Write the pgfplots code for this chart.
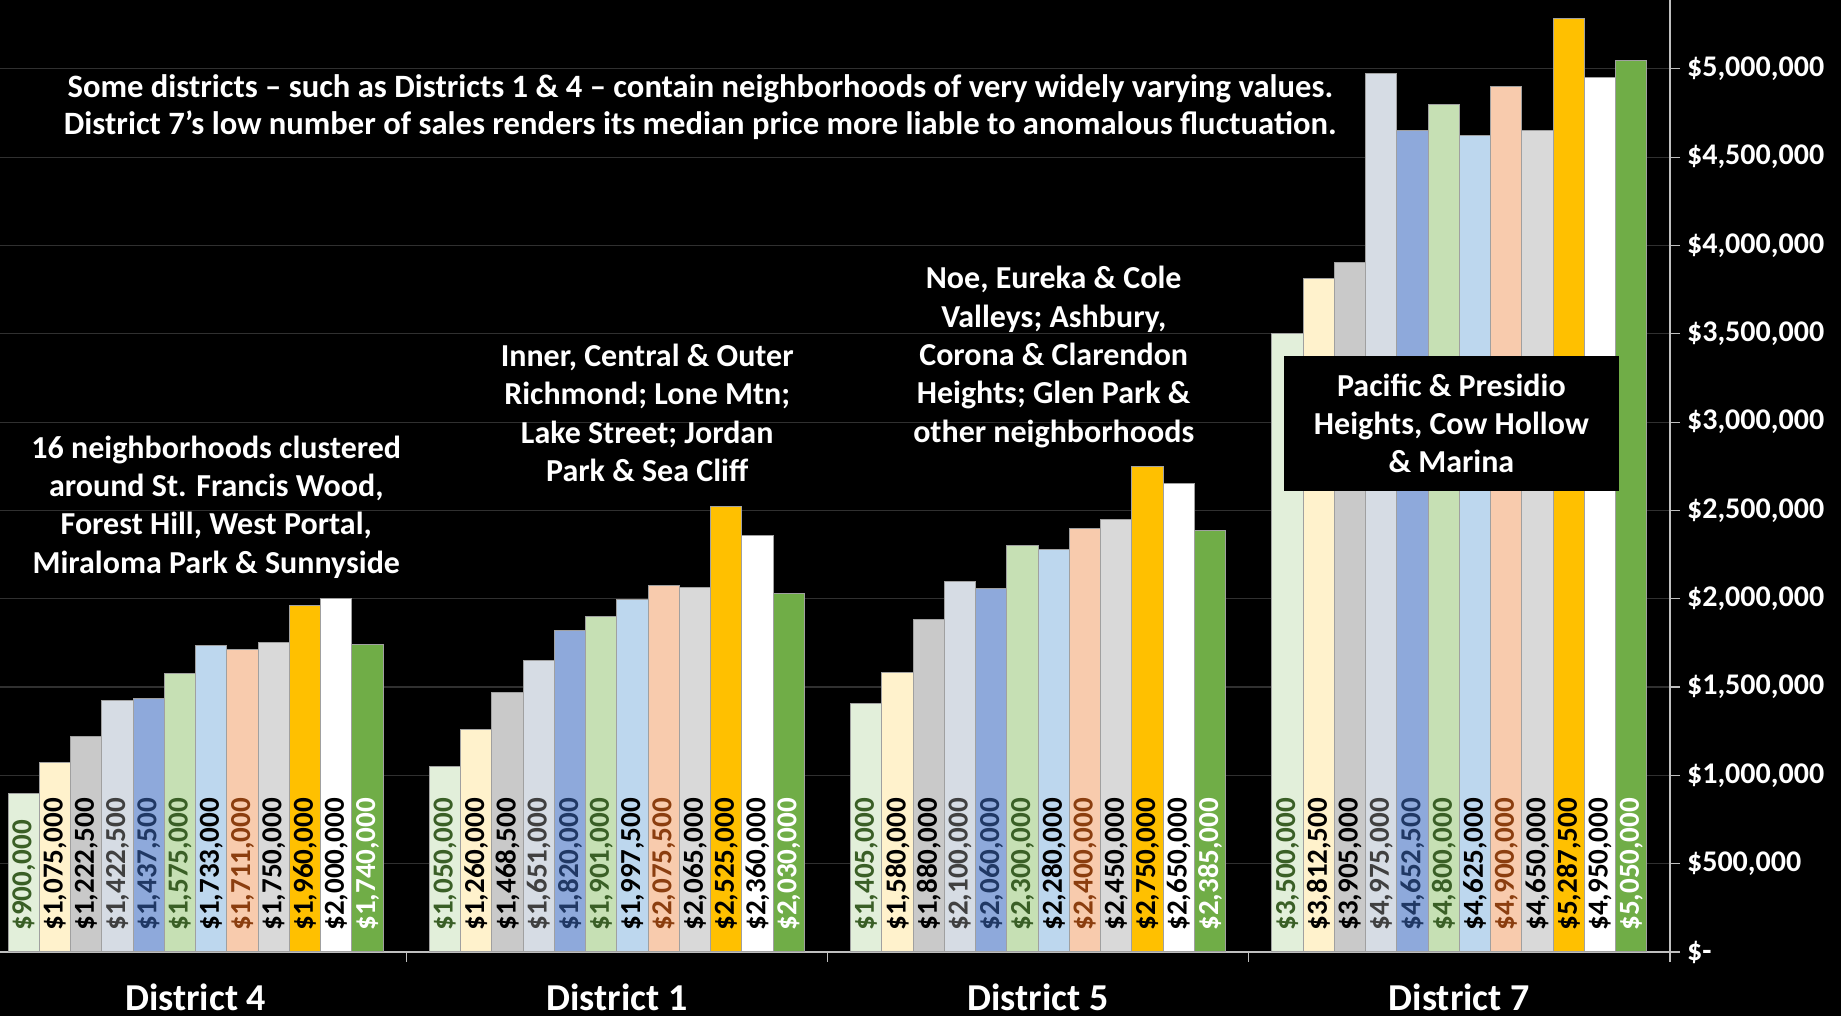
\documentclass[border=0pt]{standalone}
\usepackage{pgfplots}
\pgfplotsset{compat=1.18}
\usepackage{fontspec}
\setmainfont{Carlito}
\definecolor{c1}{HTML}{E2EFDA}
\definecolor{c2}{HTML}{FFF2CC}
\definecolor{c3}{HTML}{C9C9C9}
\definecolor{c4}{HTML}{D6DCE4}
\definecolor{c5}{HTML}{8EA9DB}
\definecolor{c6}{HTML}{C6E0B4}
\definecolor{c7}{HTML}{BDD7EE}
\definecolor{c8}{HTML}{F8CBAD}
\definecolor{c9}{HTML}{D9D9D9}
\definecolor{c10}{HTML}{FFC000}
\definecolor{c11}{HTML}{FFFFFF}
\definecolor{c12}{HTML}{70AD47}
\definecolor{tgreen}{HTML}{3A5F26}
\definecolor{tgray}{HTML}{404040}
\definecolor{tblue}{HTML}{203864}
\definecolor{tbrown}{HTML}{8B3E0F}
\definecolor{gridc}{HTML}{303030}
\definecolor{axc}{HTML}{BFBFBF}
\definecolor{edgec}{HTML}{A0A0A0}
\begin{document}
\begin{tikzpicture}
\fill[black] (0,0) rectangle (920.5pt,508pt);
\begin{axis}[
  at={(-7.5pt,32pt)}, anchor=south west,
  scale only axis, width=842.5pt, height=476pt,
  xmin=-0.5, xmax=3.5, ymin=0, ymax=5390000,
  ybar=0pt, bar width=15.625pt,
  axis x line*=bottom, axis y line*=right,
  axis line style={draw=axc, line width=0.6pt},
  ytick={0,500000,1000000,1500000,2000000,2500000,3000000,3500000,4000000,4500000,5000000},
  yticklabels={{\$-},{\$500,000},{\$1,000,000},{\$1,500,000},{\$2,000,000},{\$2,500,000},{\$3,000,000},{\$3,500,000},{\$4,000,000},{\$4,500,000},{\$5,000,000}},
  yticklabel style={anchor=west, text=white, font=\fontsize{15}{18}\selectfont\bfseries},
  scaled y ticks=false,
  ymajorgrids, grid style={draw=gridc, line width=0.6pt},
  tick style={draw=axc, line width=0.6pt},
  major tick length=5pt, tick align=outside,
  xtick={-0.5,0.5,1.5,2.5,3.5}, xticklabels={},
  extra x ticks={0,1,2,3},
  extra x tick labels={District 4, District 1, District 5, District 7},
  extra x tick style={major tick length=0pt, grid=none},
  xticklabel style={anchor=base, inner sep=0pt, yshift=-29.5pt, text=white, font=\fontsize{19}{23}\selectfont\bfseries},
  clip=false,
  nodes near coords,
  point meta=explicit symbolic,
  visualization depends on=y \as \rawy,
  every node near coord/.append style={shift={(axis direction cs:0,-\rawy)}, rotate=90, anchor=west, inner xsep=10.5pt, inner ysep=0pt, font=\fontsize{14.5}{17}\selectfont\bfseries},
  every axis plot/.append style={draw=edgec, line width=0.5pt},
]
\addplot[fill=c1, every node near coord/.append style={text=tgreen}] coordinates {(0,900000)[\$900,000] (1,1050000)[\$1,050,000] (2,1405000)[\$1,405,000] (3,3500000)[\$3,500,000]};
\addplot[fill=c2, every node near coord/.append style={text=black}] coordinates {(0,1075000)[\$1,075,000] (1,1260000)[\$1,260,000] (2,1580000)[\$1,580,000] (3,3812500)[\$3,812,500]};
\addplot[fill=c3, every node near coord/.append style={text=black}] coordinates {(0,1222500)[\$1,222,500] (1,1468500)[\$1,468,500] (2,1880000)[\$1,880,000] (3,3905000)[\$3,905,000]};
\addplot[fill=c4, every node near coord/.append style={text=tgray}] coordinates {(0,1422500)[\$1,422,500] (1,1651000)[\$1,651,000] (2,2100000)[\$2,100,000] (3,4975000)[\$4,975,000]};
\addplot[fill=c5, every node near coord/.append style={text=tblue}] coordinates {(0,1437500)[\$1,437,500] (1,1820000)[\$1,820,000] (2,2060000)[\$2,060,000] (3,4652500)[\$4,652,500]};
\addplot[fill=c6, every node near coord/.append style={text=tgreen}] coordinates {(0,1575000)[\$1,575,000] (1,1901000)[\$1,901,000] (2,2300000)[\$2,300,000] (3,4800000)[\$4,800,000]};
\addplot[fill=c7, every node near coord/.append style={text=black}] coordinates {(0,1733000)[\$1,733,000] (1,1997500)[\$1,997,500] (2,2280000)[\$2,280,000] (3,4625000)[\$4,625,000]};
\addplot[fill=c8, every node near coord/.append style={text=tbrown}] coordinates {(0,1711000)[\$1,711,000] (1,2075500)[\$2,075,500] (2,2400000)[\$2,400,000] (3,4900000)[\$4,900,000]};
\addplot[fill=c9, every node near coord/.append style={text=black}] coordinates {(0,1750000)[\$1,750,000] (1,2065000)[\$2,065,000] (2,2450000)[\$2,450,000] (3,4650000)[\$4,650,000]};
\addplot[fill=c10, every node near coord/.append style={text=black}] coordinates {(0,1960000)[\$1,960,000] (1,2525000)[\$2,525,000] (2,2750000)[\$2,750,000] (3,5287500)[\$5,287,500]};
\addplot[fill=c11, every node near coord/.append style={text=black}] coordinates {(0,2000000)[\$2,000,000] (1,2360000)[\$2,360,000] (2,2650000)[\$2,650,000] (3,4950000)[\$4,950,000]};
\addplot[fill=c12, every node near coord/.append style={text=white}] coordinates {(0,1740000)[\$1,740,000] (1,2030000)[\$2,030,000] (2,2385000)[\$2,385,000] (3,5050000)[\$5,050,000]};

\node[text=white, font=\fontsize{16.3}{18.4}\selectfont\bfseries, align=center] at (axis cs:1.198,4782000) {Some districts -- such as Districts 1 \& 4 -- contain neighborhoods of very widely varying values.\\District 7’s low number of sales renders its median price more liable to anomalous fluctuation.};
\node[text=white, font=\fontsize{16}{19.2}\selectfont\bfseries, align=center] at (axis cs:0.049,2520000) {16 neighborhoods clustered\\around St. Francis Wood,\\Forest Hill, West Portal,\\Miraloma Park \& Sunnyside};
\node[text=white, font=\fontsize{16}{19.2}\selectfont\bfseries, align=center] at (axis cs:1.072,3052000) {Inner, Central \& Outer\\Richmond; Lone Mtn;\\Lake Street; Jordan\\Park \& Sea Cliff};
\node[text=white, font=\fontsize{16}{19.2}\selectfont\bfseries, align=center] at (axis cs:2.037,3369000) {Noe, Eureka \& Cole\\Valleys; Ashbury,\\Corona \& Clarendon\\Heights; Glen Park \&\\other neighborhoods};
\node[fill=black, text=white, font=\fontsize{16}{19.2}\selectfont\bfseries, align=center, minimum width=167.5pt, minimum height=67.5pt, inner sep=0pt] at (axis cs:2.981,2993000) {Pacific \& Presidio\\Heights, Cow Hollow\\\& Marina};
\end{axis}
\pgfresetboundingbox
\useasboundingbox (0,0) rectangle (920.5pt,508pt);
\end{tikzpicture}
\end{document}
